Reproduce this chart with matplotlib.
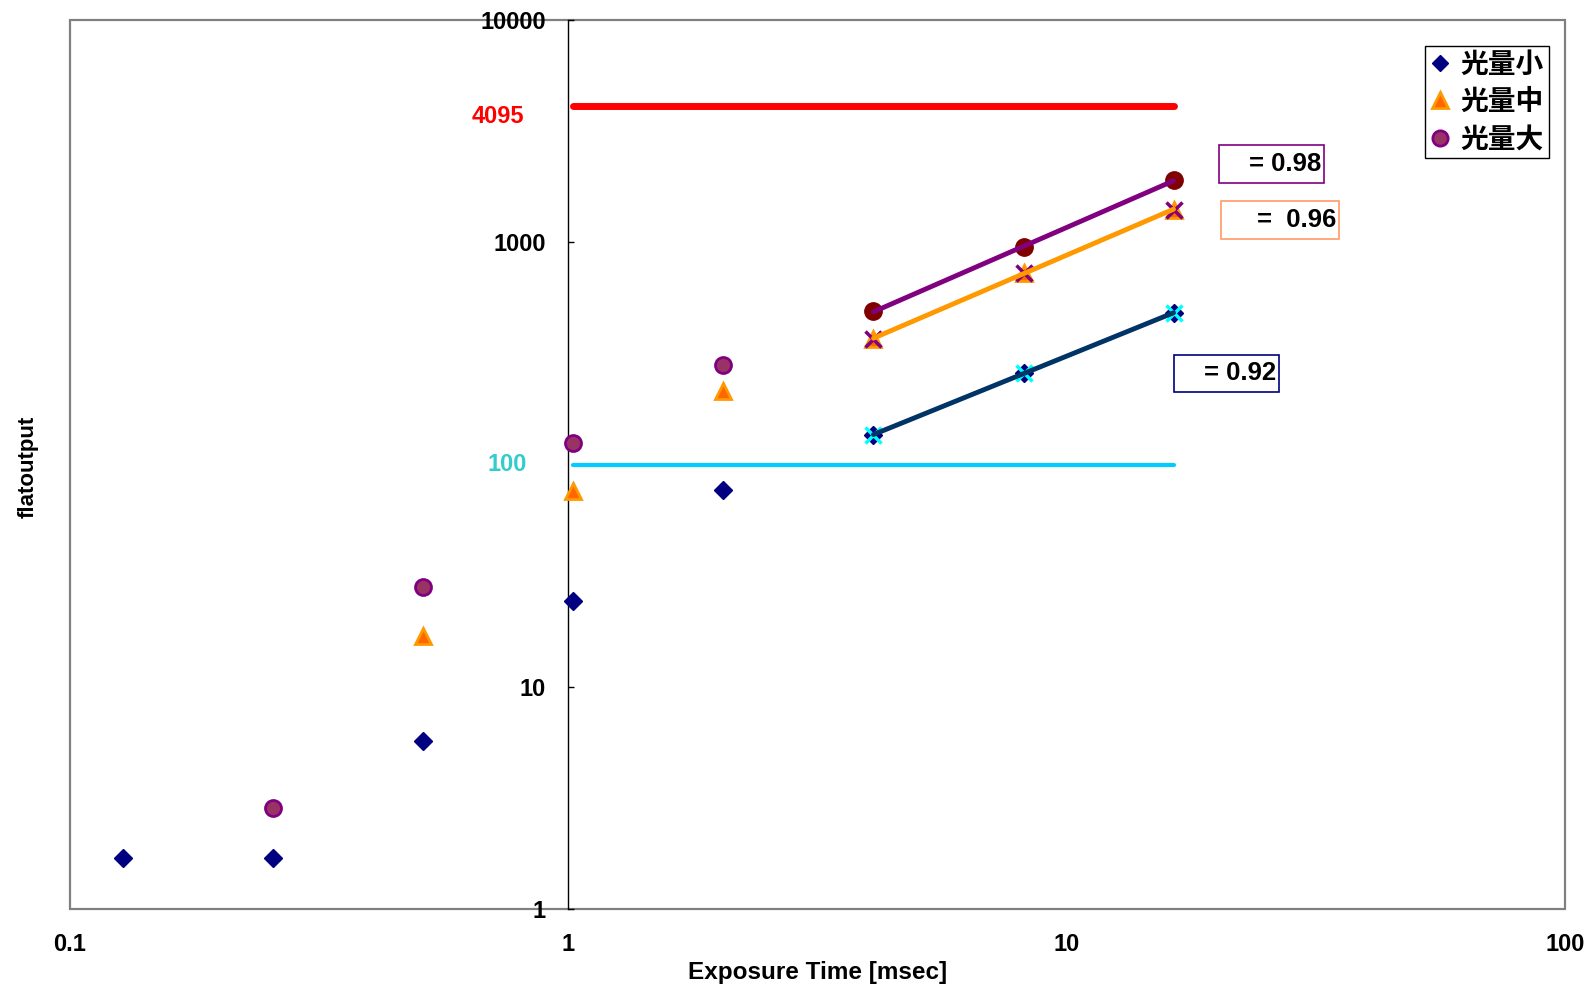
import numpy as np
import matplotlib
matplotlib.use("Agg")
import matplotlib.pyplot as plt
from matplotlib.patches import Rectangle
from matplotlib.lines import Line2D

plt.rcParams['font.family'] = ['Liberation Sans', 'DejaVu Sans']

# exposure times [msec]
exposure = [0.128, 0.256, 0.512, 1.024, 2.048, 4.096, 8.192, 16.384]

# flat output per light level
small_x = exposure
small_y = [1.7, 1.7, 5.7, 24.4, 77, 136, 258, 480]
mid_x = [0.512, 1.024, 2.048, 4.096, 8.192, 16.384]
mid_y = [16.9, 76, 215, 368, 730, 1400]
large_x = [0.256, 0.512, 1.024, 2.048, 4.096, 8.192, 16.384]
large_y = [2.86, 28, 125, 280, 489, 949, 1900]

series_names = ['光量小', '光量中', '光量大']
r2_labels = ['= 0.92', '=  0.96', '= 0.98']

saturation = 4095
threshold = 100
line_x = [1.024, 16.384]

yticks = [1, 10, 1000, 10000]
xticks = [0.1, 1, 10, 100]

fig = plt.figure(figsize=(15.93, 9.89), dpi=100)
ax = fig.add_axes([70 / 1593, 1 - 909 / 989, (1565 - 70) / 1593, (909 - 20) / 989])
ax.set_xscale('log')
ax.set_yscale('log')
ax.set_xlim(0.1, 100)
ax.set_ylim(1, 10000)

# frame and y axis crossing at x=1
for s in ['top', 'right', 'bottom']:
    ax.spines[s].set_visible(False)
ax.spines['left'].set_position(('data', 1))
ax.spines['left'].set_color('black')
ax.spines['left'].set_linewidth(1)
ax.add_patch(Rectangle((0, 0), 1, 1, transform=ax.transAxes, fill=False,
                       edgecolor='#808080', lw=1.6, clip_on=False, zorder=0.5))

ax.set_yticks(yticks)
ax.set_yticklabels([str(v) for v in yticks])
ax.set_xticks(xticks)
ax.set_xticklabels(['0.1', '1', '10', '100'])
ax.yaxis.set_minor_locator(matplotlib.ticker.NullLocator())
ax.xaxis.set_minor_locator(matplotlib.ticker.NullLocator())
ax.tick_params(axis='y', direction='in', length=4, width=1, pad=16,
               labelsize=17)
ax.tick_params(axis='x', length=0, pad=17, labelsize=17)
for lab in ax.get_xticklabels() + ax.get_yticklabels():
    lab.set_fontweight('bold')

# reference lines
ax.plot(line_x, [saturation] * 2, color='#FF0000', lw=5, solid_capstyle='round', zorder=2)
ax.plot(line_x, [threshold] * 2, color='#00CCFF', lw=3, solid_capstyle='round', zorder=2)
ax.text(0.816, saturation * 0.9, str(saturation), color='#FF0000', ha='right', va='center',
        fontsize=17, fontweight='bold')
ax.text(0.827, threshold, str(threshold), color='#33CCCC', ha='right', va='center',
        fontsize=17, fontweight='bold')

# scatter series
ax.plot(small_x, small_y, ls='none', marker='D', ms=9.5, color='#000080', zorder=3)
ax.plot(mid_x, mid_y, ls='none', marker='^', ms=12, mfc='#FF6600', mec='#FF9900', mew=2, zorder=3)
ax.plot(large_x[:4], large_y[:4], ls='none', marker='o', ms=11.5, mfc='#993366', mec='#800080', mew=2, zorder=3)

# fit ranges (last three points) with overlay markers
ax.plot(small_x[5:], small_y[5:], ls='none', marker='x', ms=11, mew=2.5, color='#00FFFF', zorder=3.5)
ax.plot(mid_x[3:], mid_y[3:], ls='none', marker='x', ms=11, mew=2.5, color='#800080', zorder=3.5)
ax.plot(large_x[4:], large_y[4:], ls='none', marker='o', ms=12.5, color='#800000', zorder=3.5)

# power-law fit lines
for xs, ys, c in [(small_x[5:], small_y[5:], '#003366'),
                  (mid_x[3:], mid_y[3:], '#FF9900'),
                  (large_x[4:], large_y[4:], '#800080')]:
    b, a = np.polyfit(np.log10(xs), np.log10(ys), 1)
    fx = np.array([xs[0], xs[-1]])
    ax.plot(fx, 10 ** (a + b * np.log10(fx)), color=c, lw=3.5, solid_capstyle='round', zorder=4)

# R^2 boxes (figure pixel positions)
boxes = [(1174, 355, 1279, 392, '#000080'),
         (1221, 201, 1339, 239, '#FF9966'),
         (1219, 145, 1324, 183, '#800080')]
for (x0, y0, x1, y1, ec), txt in zip(boxes, r2_labels):
    fig.patches.append(Rectangle((x0 / 1593, 1 - y1 / 989), (x1 - x0) / 1593, (y1 - y0) / 989,
                                 transform=fig.transFigure, fill=False, edgecolor=ec, lw=1.2))
    fig.text((x1 - 3) / 1593, 1 - (y0 + y1) / 2 / 989, txt, ha='right', va='center',
             fontsize=18.5, fontweight='bold')

# legend
handles = [Line2D([], [], ls='none', marker='D', ms=8, color='#000080'),
           Line2D([], [], ls='none', marker='^', ms=11, mfc='#FF6600', mec='#FF9900', mew=2),
           Line2D([], [], ls='none', marker='o', ms=11, mfc='#993366', mec='#800080', mew=2)]
leg = ax.legend(handles, series_names, loc='upper right',
                bbox_to_anchor=(1549 / 1593, 1 - 46 / 989), bbox_transform=fig.transFigure,
                borderaxespad=0, fancybox=False, framealpha=1, edgecolor='black',
                handlelength=0.7, handletextpad=0.4, labelspacing=0.33, borderpad=0.18,
                prop={'family': ['Noto Sans CJK JP', 'DejaVu Sans'], 'weight': 'bold', 'size': 20})
leg.get_frame().set_linewidth(1)

ax.set_xlabel('Exposure Time [msec]', fontsize=17.5, fontweight='bold', labelpad=4)
fig.text(28 / 1593, 1 - 467 / 989, 'flatoutput', rotation=90, ha='center', va='center',
         fontsize=16, fontweight='bold')

fig.savefig('out.png', dpi=100)
